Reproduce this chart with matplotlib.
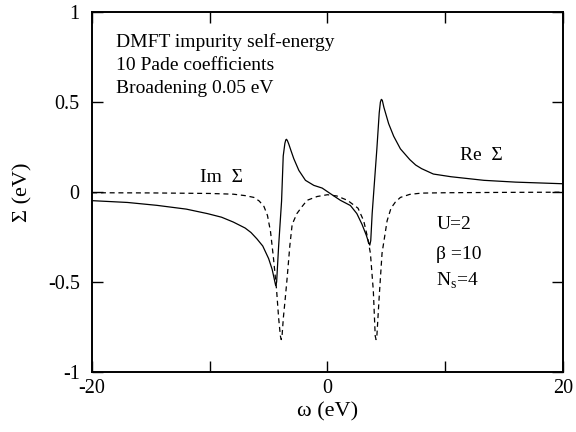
import matplotlib
matplotlib.use("Agg")
import matplotlib.pyplot as plt

plt.rcParams["font.family"] = ["Liberation Serif", "DejaVu Serif"]
plt.rcParams["mathtext.fontset"] = "custom"
plt.rcParams["mathtext.rm"] = "Liberation Serif"

# Re Sigma
re_omega = [-20, -17, -14.5, -12, -10.2, -9, -8, -7, -6.5, -6, -5.5, -5, -4.7, -4.5,
            -4.4, -4.32, -4.15, -3.9, -3.76, -3.62, -3.54, -3.48, -3.4, -3.28, -3.1,
            -2.86, -2.43, -1.87, -1.16, -0.45, 0.25, 1.1, 1.95, 2.5, 2.94, 3.3, 3.5,
            3.6, 3.68, 3.8, 4.0, 4.2, 4.4, 4.5, 4.58, 4.66, 4.8, 5.2, 5.63, 6.2,
            7.0, 7.5, 8, 9, 10.5, 13.3, 16, 20]
re_sigma = [-0.048, -0.058, -0.074, -0.095, -0.12, -0.14, -0.167, -0.20, -0.225, -0.26,
            -0.30, -0.37, -0.43, -0.49, -0.52, -0.50, -0.30, -0.05, 0.20, 0.27,
            0.29, 0.293, 0.285, 0.265, 0.23, 0.185, 0.12, 0.065, 0.037, 0.022,
            -0.009, -0.046, -0.075, -0.12, -0.18, -0.24, -0.28, -0.295, -0.27,
            -0.12, 0.06, 0.24, 0.44, 0.50, 0.515, 0.51, 0.47, 0.38, 0.31, 0.24,
            0.18, 0.15, 0.13, 0.10, 0.085, 0.065, 0.055, 0.046]

# Im Sigma
im_omega = [-20, -15, -10, -8, -7, -6.25, -5.8, -5.4, -5.1, -4.84, -4.6, -4.33, -4.15,
            -4.0, -3.93, -3.86, -3.75, -3.6, -3.43, -3.2, -3.0, -2.6, -2.15, -1.73,
            -0.88, 0, 0.8, 1.7, 2.6, 3.08, 3.4, 3.65, 3.9, 4.06, 4.13, 4.2, 4.4,
            4.64, 5.07, 5.4, 5.77, 6.2, 7.0, 8, 10, 15, 20]
im_sigma = [-0.004, -0.005, -0.008, -0.012, -0.02, -0.03, -0.05, -0.08, -0.13, -0.22,
            -0.36, -0.54, -0.70, -0.80, -0.82, -0.80, -0.70, -0.60, -0.48, -0.30,
            -0.18, -0.12, -0.08, -0.046, -0.025, -0.015, -0.022, -0.046, -0.09,
            -0.16, -0.25, -0.34, -0.55, -0.80, -0.82, -0.80, -0.58, -0.34, -0.16,
            -0.09, -0.056, -0.03, -0.013, -0.006, -0.004, -0.002, -0.001]

fig = plt.figure(figsize=(5.76, 4.32), dpi=100)
ax = fig.add_axes([0.16, 0.139, 0.817, 0.833])

ax.plot(re_omega, re_sigma, color="black", lw=0.9)
ax.plot(im_omega, im_sigma, color="black", lw=0.9, dashes=(4, 3))

ax.set_xlim(-20, 20)
ax.set_ylim(-1, 1)
ax.set_xticks([-20, -10, 0, 10, 20])
ax.set_xticklabels(["-20", "", "0", "", "20"])
ax.set_yticks([-1, -0.5, 0, 0.5, 1])
ax.set_yticklabels(["-1", "-0.5", "0", "0.5", "1"])
ax.tick_params(direction="in", length=8, width=1, top=True, right=True,
               labelsize=14.5)
ax.tick_params(axis="y", pad=9)
ax.tick_params(axis="x", pad=5)
for spine in ax.spines.values():
    spine.set_linewidth(1.4)

ax.set_xlabel("ω (eV)", fontsize=16, labelpad=3)
ax.set_ylabel("Σ (eV)", fontsize=16, labelpad=11)

fs = 14
ax.text(-18, 0.806, "DMFT impurity self-energy", fontsize=fs, va="baseline")
ax.text(-18, 0.68, "10 Pade coefficients", fontsize=fs, va="baseline")
ax.text(-18, 0.55, "Broadening 0.05 eV", fontsize=fs, va="baseline")
ax.text(-10.8, 0.056, "Im  Σ", fontsize=fs, va="baseline")
ax.text(11.3, 0.176, "Re  Σ", fontsize=fs, va="baseline")
ax.text(9.26, -0.204, "U=2", fontsize=fs, va="baseline")
ax.text(9.26, -0.37, "β =10", fontsize=fs, va="baseline")
ax.text(9.26, -0.52, "N$_\\mathrm{s}$=4", fontsize=fs, va="baseline")

fig.savefig("out.png", dpi=100)
